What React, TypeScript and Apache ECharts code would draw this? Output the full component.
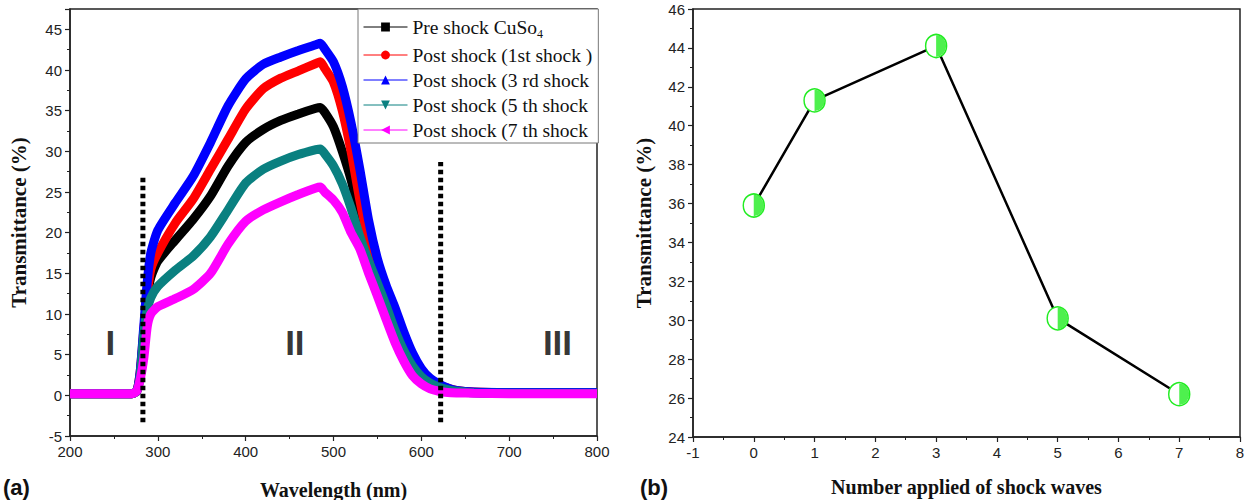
import React, { useEffect, useRef } from 'react';
import * as echarts from 'echarts';

// ---------- Panel (a): transmittance spectra ----------
const WAVELENGTH = [200, 270, 276, 280, 284, 288, 292, 300, 320, 340, 360, 380, 400, 420, 440, 460, 480, 485, 490, 500, 510, 520, 530, 540, 550, 560, 570, 580, 590, 600, 610, 620, 630, 640, 660, 700, 800];

const PRE_SHOCK = [0.2, 0.2, 0.5, 2.5, 7.5, 12, 14.5, 16.5, 19.1, 21.6, 24.5, 28.2, 31.1, 32.7, 33.8, 34.6, 35.3, 35.4, 34.8, 33, 30, 26.5, 22, 17.8, 14.5, 12, 9.5, 6.7, 4.4, 2.8, 1.8, 1.2, 0.8, 0.5, 0.35, 0.3, 0.3];
const SHOCK_1 = [0.2, 0.2, 0.5, 3, 8, 12.5, 15.5, 17.5, 21.2, 24.1, 27.8, 31.5, 35.2, 37.7, 39, 39.9, 40.8, 41, 40.2, 38.5, 35, 30, 24, 19, 15.5, 12.5, 10, 7.2, 4.8, 3, 1.9, 1.3, 0.9, 0.6, 0.4, 0.3, 0.3];
const SHOCK_3 = [0.2, 0.2, 0.5, 3, 8.5, 14, 17.5, 20.3, 23.7, 26.9, 31.1, 35.6, 38.9, 40.7, 41.6, 42.4, 43.1, 43.3, 42.6, 41, 38, 33.5, 27.8, 21.5, 16.8, 13.5, 10.8, 7.8, 5.2, 3.3, 2.1, 1.4, 0.9, 0.6, 0.4, 0.35, 0.35];
const SHOCK_5 = [0.2, 0.2, 0.5, 2.5, 7.5, 10.5, 12, 13.4, 15.4, 17.1, 19.5, 22.8, 26.1, 27.8, 28.8, 29.6, 30.2, 30.3, 29.7, 28.2, 26, 23, 19.5, 16.5, 13.8, 11, 8, 5.5, 3.6, 2.3, 1.5, 1, 0.7, 0.5, 0.3, 0.25, 0.25];
const SHOCK_7 = [0.2, 0.2, 0.5, 2, 4.5, 8.5, 10, 10.9, 11.9, 13, 15, 18.6, 21.4, 22.8, 23.8, 24.7, 25.5, 25.6, 25, 24, 22.5, 20, 18, 15, 12.2, 9.3, 6.5, 4.2, 2.4, 1.4, 0.8, 0.5, 0.35, 0.3, 0.25, 0.2, 0.2];

const SPECTRA = [PRE_SHOCK, SHOCK_1, SHOCK_3, SHOCK_5, SHOCK_7];
const SERIES_NAMES = ['Pre shock CuSo4', 'Post shock (1st shock )', 'Post shock (3 rd shock', 'Post shock (5 th shock', 'Post shock (7 th shock'];
const SERIES_COLORS = ['#000000', '#ff0000', '#0000ff', '#0a8080', '#ff00ff'];
const SERIES_SYMBOLS = ['rect', 'circle', 'triangle', 'path://M0,0L10,0L5,9Z', 'path://M0,5L9,0L9,10Z'];

const DIVIDER_X = [283, 622];
const DIVIDER_TOP = [27, 28.7];
const DIVIDER_BOTTOM = -3.3;

const REGION_LABELS = ['I', 'II', 'III'];
const REGION_X = [246, 456, 755];
const REGION_Y = [6.5, 6.5, 6.5];

// ---------- Panel (b): transmittance vs shock count ----------
const SHOCK_COUNT = [0, 1, 3, 5, 7];
const SHOCK_TRANSMITTANCE = [35.9, 41.3, 44.1, 30.1, 26.2];

const SERIF = '"Liberation Serif", "Times New Roman", serif';
const SANS = '"Liberation Sans", Arial, sans-serif';
const GREEN = '#22ec22';
const AXIS_COLOR = '#222';

function makeXAxis(gridIndex: number, min: number, max: number, interval: number, name: string, nameGap: number) {
  return {
    type: 'value', gridIndex, min, max, interval,
    axisLine: { show: true, onZero: false, lineStyle: { color: AXIS_COLOR, width: 1.5 } },
    axisTick: { show: true, inside: false, length: 5, lineStyle: { color: AXIS_COLOR, width: 1.2 } },
    minorTick: { show: true, splitNumber: 2, length: 3, lineStyle: { color: AXIS_COLOR, width: 1 } },
    splitLine: { show: false },
    axisLabel: { fontFamily: SANS, fontSize: 15, color: '#222', margin: 8 },
    name, nameLocation: 'middle', nameGap,
    nameTextStyle: { fontFamily: SERIF, fontWeight: 'bold', fontSize: 20, color: '#111' },
  };
}

function makeYAxis(gridIndex: number, min: number, max: number, interval: number, name: string, nameGap: number) {
  return {
    type: 'value', gridIndex, min, max, interval,
    axisLine: { show: true, onZero: false, lineStyle: { color: AXIS_COLOR, width: 1.5 } },
    axisTick: { show: true, inside: false, length: 5, lineStyle: { color: AXIS_COLOR, width: 1.2 } },
    minorTick: { show: true, splitNumber: 2, length: 3, lineStyle: { color: AXIS_COLOR, width: 1 } },
    splitLine: { show: false },
    axisLabel: { fontFamily: SANS, fontSize: 15, color: '#222', margin: 8, showMaxLabel: max % interval === 0 },
    name, nameLocation: 'middle', nameGap,
    nameTextStyle: { fontFamily: SERIF, fontWeight: 'bold', fontSize: 21, color: '#111' },
  };
}

export default function App() {
  const ref = useRef<HTMLDivElement>(null);

  useEffect(() => {
    if (!ref.current) return;
    const chart = echarts.init(ref.current, undefined, { renderer: 'svg' });

    const spectraSeries = SPECTRA.map((vals, i) => ({
      name: SERIES_NAMES[i],
      type: 'line',
      xAxisIndex: 0, yAxisIndex: 0,
      data: WAVELENGTH.map((w, j) => [w, vals[j]]),
      showSymbol: false,
      symbol: SERIES_SYMBOLS[i],
      symbolSize: 9,
      smooth: 0.2,
      lineStyle: { width: 9, color: SERIES_COLORS[i] },
      itemStyle: { color: SERIES_COLORS[i] },
      z: 2 + i * 0.1,
    }));

    const dividerSeries = DIVIDER_X.map((x, i) => ({
      type: 'line',
      xAxisIndex: 0, yAxisIndex: 0,
      data: [[x, DIVIDER_BOTTOM], [x, DIVIDER_TOP[i]]],
      symbol: 'none',
      lineStyle: { color: '#000', width: 5, type: [4.5, 3.5], cap: 'butt' },
      silent: true,
      z: 5,
    }));

    const option: any = {
      animation: false,
      backgroundColor: '#fff',
      grid: [
        { left: 70, top: 9, width: 527, height: 427, show: true, borderColor: AXIS_COLOR, borderWidth: 1.5, backgroundColor: 'transparent', containLabel: false, outerBoundsMode: 'none' },
        { left: 693, top: 9, width: 547, height: 428, show: true, borderColor: AXIS_COLOR, borderWidth: 1.5, backgroundColor: 'transparent', containLabel: false, outerBoundsMode: 'none' },
      ],
      xAxis: [
        makeXAxis(0, 200, 800, 100, 'Wavelength (nm)', 44),
        makeXAxis(1, -1, 8, 1, 'Number applied of shock waves', 40),
      ],
      yAxis: [
        makeYAxis(0, -5, 47.5, 5, 'Transmittance (%)', 41),
        makeYAxis(1, 24, 46, 2, 'Transmittance (%)', 39),
      ],
      legend: {
        data: SERIES_NAMES,
        orient: 'vertical',
        left: 358, top: 9,
        itemWidth: 44, itemHeight: 11, itemGap: 5,
        padding: [5, 6, 3, 5],
        borderColor: '#777', borderWidth: 1, backgroundColor: '#fff',
        lineStyle: { width: 1 },
        formatter: (name: string) => (name === SERIES_NAMES[0] ? 'Pre shock CuSo{sub|4}' : name),
        textStyle: {
          fontFamily: SERIF, fontSize: 19.5, color: '#111', lineHeight: 19,
          rich: { sub: { fontFamily: SERIF, fontSize: 12, color: '#111', lineHeight: 12, padding: [14, 0, 0, 0] } },
        },
      },
      graphic: [
        { type: 'text', left: 3, top: 476, style: { text: '(a)', fontFamily: SANS, fontSize: 22, fontWeight: 'bold', fill: '#111' } },
        { type: 'text', left: 640, top: 476, style: { text: '(b)', fontFamily: SANS, fontSize: 22, fontWeight: 'bold', fill: '#111' } },
      ],
      series: [
        ...spectraSeries,
        ...dividerSeries,
        {
          type: 'scatter',
          xAxisIndex: 0, yAxisIndex: 0,
          data: REGION_X.map((x, i) => ({ value: [x, REGION_Y[i]], name: REGION_LABELS[i] })),
          symbolSize: 1,
          itemStyle: { color: 'transparent' },
          label: { show: true, position: 'inside', formatter: '{b}', fontFamily: SANS, fontWeight: 'bold', fontSize: 35, color: '#000' },
          silent: true,
          z: 6,
        },
        {
          type: 'line',
          xAxisIndex: 1, yAxisIndex: 1,
          data: SHOCK_COUNT.map((x, i) => [x, SHOCK_TRANSMITTANCE[i]]),
          symbol: 'circle',
          symbolSize: [21, 23],
          showSymbol: true,
          lineStyle: { color: '#000', width: 2.5 },
          itemStyle: { color: '#fff', borderColor: GREEN, borderWidth: 1.5 },
          z: 3,
        },
        {
          type: 'scatter',
          xAxisIndex: 1, yAxisIndex: 1,
          data: SHOCK_COUNT.map((x, i) => [x, SHOCK_TRANSMITTANCE[i]]),
          symbol: 'path://M0,0A10,10 0 0 1 0,20Z',
          symbolSize: [10, 21.5],
          symbolOffset: [5, 0],
          itemStyle: { color: GREEN },
          z: 4,
        },
      ],
    };

    chart.setOption(option);
    return () => chart.dispose();
  }, []);

  return <div ref={ref} style={{ position: 'fixed', left: 0, top: 0, width: 1249, height: 500 }} />;
}
